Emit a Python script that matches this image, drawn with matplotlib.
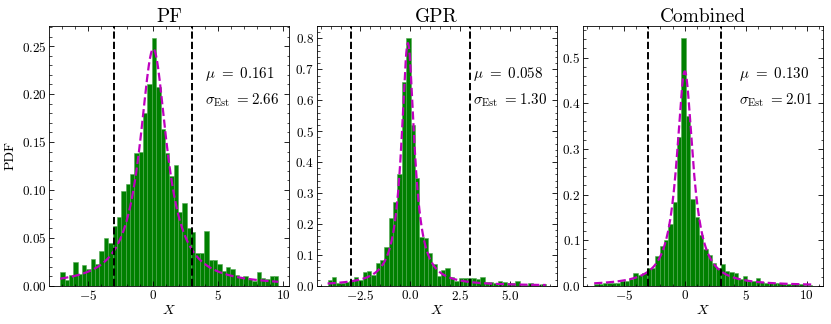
import numpy as np
import matplotlib
matplotlib.use('Agg')
import matplotlib.pyplot as plt
from matplotlib.ticker import AutoMinorLocator

plt.rcParams.update({
    'font.family': 'serif',
    'font.serif': ['cmr10', 'DejaVu Serif'],
    'mathtext.fontset': 'cm',
    'axes.formatter.use_mathtext': True,
    'axes.linewidth': 0.6,
    'xtick.direction': 'in', 'ytick.direction': 'in',
    'xtick.top': True, 'ytick.right': True,
    'xtick.major.size': 3.5, 'ytick.major.size': 3.5,
    'xtick.minor.size': 1.8, 'ytick.minor.size': 1.8,
    'xtick.major.width': 0.6, 'ytick.major.width': 0.6,
    'xtick.minor.width': 0.5, 'ytick.minor.width': 0.5,
    'xtick.labelsize': 9.5, 'ytick.labelsize': 9.5,
})

# histogram data (density, 50 bins each)
pf_range = (-7.14, 9.64)
pf_pdf = [0.014, 0.0055, 0.011, 0.025, 0.012, 0.022, 0.018, 0.028, 0.023, 0.036,
          0.050, 0.045, 0.062, 0.072, 0.099, 0.106, 0.117, 0.138, 0.140, 0.180,
          0.210, 0.258, 0.207, 0.164, 0.138, 0.114, 0.126, 0.077, 0.086, 0.060,
          0.056, 0.034, 0.034, 0.057, 0.027, 0.027, 0.023, 0.015, 0.020, 0.017,
          0.011, 0.009, 0.010, 0.007, 0.005, 0.014, 0.008, 0.007, 0.010, 0.010]

gpr_range = (-4.15, 6.80)
gpr_pdf = [0.018, 0.027, 0.008, 0.010, 0.013, 0.016, 0.027, 0.020, 0.043, 0.047,
           0.034, 0.075, 0.083, 0.126, 0.218, 0.272, 0.363, 0.660, 0.800, 0.520,
           0.350, 0.158, 0.155, 0.107, 0.072, 0.031, 0.051, 0.058, 0.029, 0.016,
           0.024, 0.024, 0.024, 0.026, 0.023, 0.027, 0.013, 0.011, 0.008, 0.016,
           0.013, 0.008, 0.008, 0.016, 0.004, 0.004, 0.008, 0.005, 0.004, 0.006]

comb_range = (-7.43, 10.46)
comb_pdf = [0.003, 0.004, 0.005, 0.005, 0.007, 0.007, 0.010, 0.011, 0.014, 0.027,
            0.023, 0.028, 0.038, 0.040, 0.065, 0.088, 0.100, 0.135, 0.184, 0.325,
            0.542, 0.372, 0.190, 0.150, 0.111, 0.080, 0.068, 0.049, 0.040, 0.047,
            0.033, 0.031, 0.027, 0.014, 0.021, 0.011, 0.011, 0.018, 0.009, 0.007,
            0.007, 0.005, 0.005, 0.004, 0.004, 0.003, 0.003, 0.003, 0.002, 0.002]

# lorentzian fits: (amplitude, centre, half width)
pf_fit = (0.247, 0.02, 1.26)
gpr_fit = (0.785, -0.12, 0.39)
comb_fit = (0.47, 0.0, 0.80)

titles = ['PF', 'GPR', 'Combined']
mu_vals = ['0.161', '0.058', '0.130']
sig_vals = ['2.66', '1.30', '2.01']
cut = 3.0

fig = plt.figure(figsize=(8.31, 3.24), dpi=100)
lefts = [0.0593, 0.3811, 0.7019]
panels = [(pf_range, pf_pdf, pf_fit), (gpr_range, gpr_pdf, gpr_fit), (comb_range, comb_pdf, comb_fit)]

for i, (rng, pdf, fit) in enumerate(panels):
    ax = fig.add_axes([lefts[i], 0.118, 0.2888, 0.8015])
    edges = np.linspace(rng[0], rng[1], len(pdf) + 1)
    ax.bar(edges[:-1], pdf, width=np.diff(edges), align='edge',
           color='green', edgecolor='#55aa55', linewidth=0.4)
    xx = np.linspace(rng[0], rng[1], 400)
    amp, x0, g = fit
    ax.plot(xx, amp / (1 + ((xx - x0) / g) ** 2), '--', color='m', lw=1.6)
    ax.axvline(-cut, color='k', ls='--', lw=1.4)
    ax.axvline(cut, color='k', ls='--', lw=1.4)
    ax.set_title(titles[i], fontsize=14, pad=3)
    ax.set_xlabel('$X$', fontsize=10, labelpad=1)
    if i == 0:
        ax.set_ylabel('PDF', fontsize=10)
    ax.text(0.65, 0.815, r'$\mu\ =\ %s$' % mu_vals[i], transform=ax.transAxes,
            fontsize=10.8, va='center')
    ax.text(0.65, 0.715, r'$\sigma_{\rm Est}\ =%s$' % sig_vals[i], transform=ax.transAxes,
            fontsize=10.8, va='center')
    ax.xaxis.set_minor_locator(AutoMinorLocator())
    ax.yaxis.set_minor_locator(AutoMinorLocator())
    ax.tick_params(which='both', pad=2)

fig.savefig('out.png', dpi=100)
